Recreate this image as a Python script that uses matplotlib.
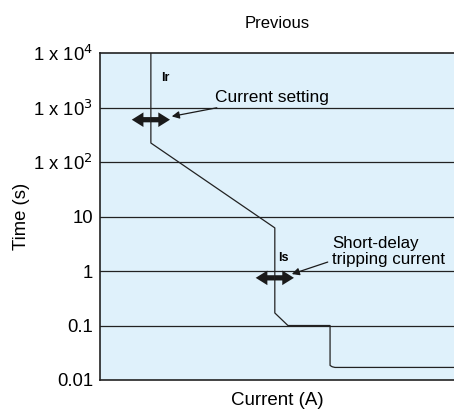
import matplotlib
matplotlib.use("Agg")
import matplotlib.pyplot as plt

plt.rcParams['font.family'] = ['Liberation Sans', 'DejaVu Sans']

# trip curve (current in arbitrary units 0-100, time in s)
curve_i = [14.4, 14.4, 49.4, 49.4, 53.1, 65.0, 65.0, 65.6, 66.4, 100]
curve_t = [1e4, 224, 6.2, 0.17, 0.1, 0.1, 0.0185, 0.0175, 0.017, 0.017]

yticks = [0.01, 0.1, 1, 10, 100, 1000, 10000]
ylabels = ['0.01', '0.1', '1', '10', r'1 x 10$^2$', r'1 x 10$^3$', r'1 x 10$^4$']

ir_pos, ir_time = 14.4, 600
is_pos, is_time = 49.4, 0.75

fig = plt.figure(figsize=(4.54, 4.12), dpi=100)
ax = fig.add_axes([0.220, 0.0777, 0.78, 0.7933])
ax.set_facecolor('#dff1fb')
ax.set_yscale('log')
ax.set_ylim(0.01, 1e4)
ax.set_xlim(0, 100)

for t in yticks[1:-1]:
    ax.axhline(t, color='#222222', lw=0.9)

ax.plot(curve_i, curve_t, color='#222222', lw=0.9)

ax.set_yticks(yticks)
ax.set_yticklabels(ylabels, fontsize=13.3)
ax.minorticks_off()
ax.set_xticks([])
ax.tick_params(axis='y', length=0, pad=5)
for s in ['left', 'bottom', 'top']:
    ax.spines[s].set_color('#222222')
    ax.spines[s].set_linewidth(1.2)
ax.spines['right'].set_visible(False)

# double arrows: two filled half-arrows from the centre outwards
arrow_style = 'simple,head_length=0.6,head_width=0.75,tail_width=0.27'
for pos, t in [(ir_pos, ir_time), (is_pos, is_time)]:
    for d in (-5.4, 5.4):
        ax.annotate('', xy=(pos + d, t), xytext=(pos, t),
                    arrowprops=dict(arrowstyle=arrow_style, fc='#1a1a1a', ec='none',
                                    mutation_scale=14, shrinkA=0, shrinkB=0))

ax.text(ir_pos + 4.2, 3500, 'Ir', fontsize=9, fontweight='bold', ha='center', va='center')
ax.text(is_pos + 2.3, 1.75, 'Is', fontsize=9, fontweight='bold', ha='center', va='center')

ax.annotate('Current setting', xy=(20.3, 690), xytext=(32.5, 1550),
            fontsize=12.5, va='center', ha='left',
            arrowprops=dict(arrowstyle='-|>', color='#1a1a1a', lw=0.9,
                            mutation_scale=11, shrinkA=1, shrinkB=0))
ax.annotate('Short-delay\ntripping current', xy=(54.2, 0.88), xytext=(65.5, 2.3),
            fontsize=12.2, va='center', ha='left', linespacing=1.1,
            arrowprops=dict(arrowstyle='-|>', color='#1a1a1a', lw=0.9,
                            mutation_scale=11, shrinkA=1, shrinkB=0,
                            relpos=(0, 0.2)))

ax.set_ylabel('Time (s)', fontsize=13.3, labelpad=2)
ax.set_xlabel('Current (A)', fontsize=13.5, labelpad=9)
ax.set_title('Previous', fontsize=12, pad=18)

fig.savefig('out.png', dpi=100)
